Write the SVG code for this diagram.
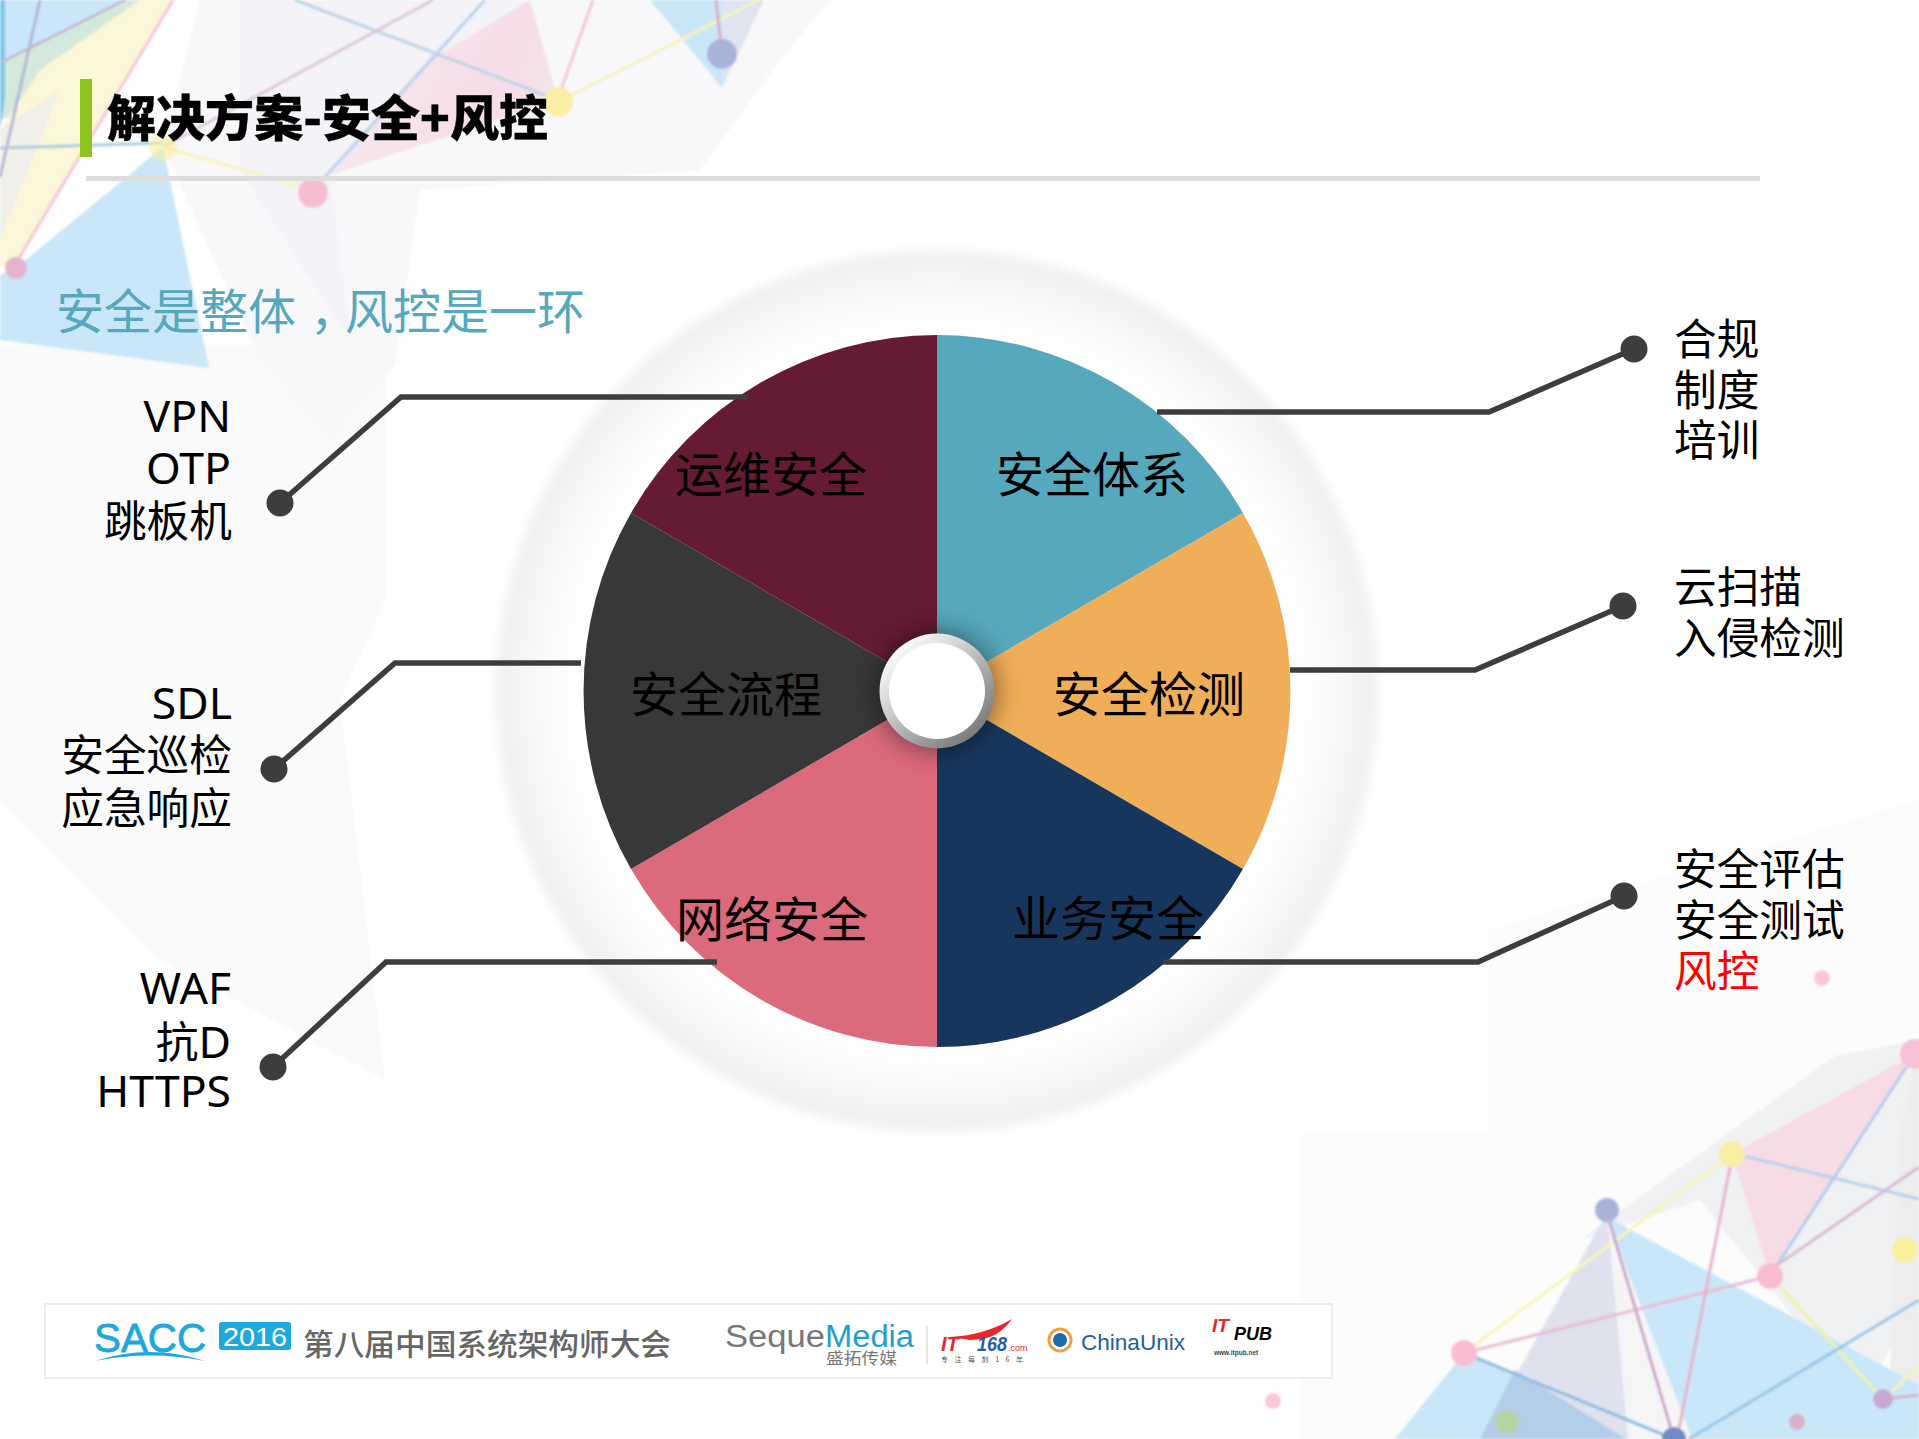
<svg xmlns="http://www.w3.org/2000/svg" width="1919" height="1439" viewBox="0 0 1919 1439">
<style>
text{font-family:"Noto Sans","Noto Sans CJK SC",sans-serif}
.p{font-size:48px;fill:#000;font-family:"Noto Sans CJK SC",sans-serif}
.l{font-size:42.7px;fill:#000}
.a{font-size:44.5px}
.e{text-anchor:end}
.c{fill:none;stroke:#3d3d3d;stroke-width:5.5}
.d{fill:#3d3d3d}
.bl{stroke-width:3;fill:none}
.f{fill:#f8f8fa}
.g{fill:#f3f3f8}
.lb{fill:#c9e7f8}
</style>
<defs>
<radialGradient id="ring" gradientUnits="userSpaceOnUse" cx="937" cy="691" r="448">
<stop offset="0.8" stop-color="#ffffff"/><stop offset="0.89" stop-color="#f9f9f9"/><stop offset="0.965" stop-color="#f1f1f1"/><stop offset="0.98" stop-color="#f5f5f5"/><stop offset="1" stop-color="#f8f8f8" stop-opacity="0"/>
</radialGradient>
<linearGradient id="hub" x1="0.15" y1="0.1" x2="0.85" y2="0.9">
<stop offset="0" stop-color="#ffffff"/><stop offset="0.35" stop-color="#d0d0d0"/><stop offset="1" stop-color="#777777"/>
</linearGradient>
<linearGradient id="pk" x1="0" y1="0" x2="1" y2="0.3">
<stop offset="0" stop-color="#f7dfe8" stop-opacity=".4"/><stop offset="0.8" stop-color="#f7dde7"/><stop offset="1" stop-color="#f3e3ea"/>
</linearGradient>
<filter id="sh" x="-50%" y="-50%" width="200%" height="200%"><feGaussianBlur stdDeviation="13"/></filter>
<filter id="soft" x="-10%" y="-10%" width="120%" height="120%"><feGaussianBlur stdDeviation="1"/></filter>
</defs>
<rect width="1919" height="1439" fill="#fff"/>
<g id="background">
<polygon fill="#fafafa" points="0,345 385,345 385,600 340,700 385,1080 160,960 0,800"/>
<polygon fill="#fcfcfc" points="1489,1132 1489,930 1919,800 1919,1439 1300,1439 1300,1132"/>
<g id="bg-topleft" filter="url(#soft)">
<polygon class="f" points="200,0 830,0 780,60 700,170 420,190 395,365 330,440 260,360 163,147"/>
<polygon class="g" points="240,0 530,0 558,100 330,175 350,340 240,170"/>
<polygon class="lb" points="0,0 125,0 0,63"/>
<polygon fill="#d5e8dc" points="125,0 173,0 70,95 0,120 0,63"/>
<polygon fill="#fbf7d8" points="173,0 140,0 40,70 0,130 0,268 16,263"/>
<polygon fill="#f1efe9" points="0,130 60,90 0,240"/>
<polygon class="lb" points="163,147 209,368 0,340 0,275 16,268"/>
<polygon fill="url(#pk)" points="530,0 558,100 330,175 430,60"/>
<polygon fill="#c9e7f8" points="650,0 722,0 722,88"/>
<polygon fill="#dfe4f0" points="722,0 764,0 722,88"/>
<polygon fill="#7fc6ee" points="0,0 5,0 5,100 0,130"/>
<g class="bl">
<line x1="295" y1="0" x2="558" y2="100" stroke="#bcd4e6"/>
<line x1="433" y1="0" x2="163" y2="147" stroke="#dcc6da"/>
<line x1="593" y1="0" x2="561" y2="90" stroke="#f5c6d6"/>
<line x1="558" y1="102" x2="759" y2="0" stroke="#f7f3b8"/>
<line x1="163" y1="147" x2="313" y2="190" stroke="#f7f3b8"/>
<line x1="485" y1="0" x2="325" y2="177" stroke="#bcd0e8"/>
<line x1="173" y1="0" x2="16" y2="263" stroke="#f5c6d6"/>
<line x1="40" y1="0" x2="0" y2="177" stroke="#b3b5d8"/>
<line x1="0" y1="148" x2="163" y2="143" stroke="#a9cfe0"/>
<line x1="125" y1="0" x2="0" y2="63" stroke="#c2b9d2"/>
<line x1="716" y1="0" x2="722" y2="54" stroke="#e0a9c6"/>
</g>
<circle cx="163" cy="147" r="14" fill="#f7ef9e" fill-opacity=".6"/>
<circle cx="313" cy="193" r="15" fill="#f6bdd2"/>
<circle cx="558" cy="102" r="15" fill="#f8efa4"/>
<circle cx="722" cy="54" r="15" fill="#a9b3da"/>
<circle cx="16" cy="268" r="11" fill="#e7b2cf"/>
</g>
<g id="bg-bottomright" filter="url(#soft)">
<polygon fill="#f0f1f3" points="1580,1240 1835,1056 1919,1040 1919,1300 1860,1400 1700,1200"/>
<polygon fill="#ededee" points="1887,1439 1900,1140 1919,1040 1919,1439"/>
<polygon class="lb" points="1464,1353 1395,1439 1690,1439"/>
<polygon class="lb" points="1607,1217 1919,1385 1919,1439 1690,1439 1628,1439"/>
<polygon fill="#f5f5f6" points="1607,1217 1628,1439 1692,1439"/>
<polygon fill="#dfe1ef" points="1607,1213 1480,1439 1628,1439"/>
<polygon fill="#a9c8e6" points="1515,1370 1480,1439 1628,1439 1626,1439" opacity=".8"/>
<polygon fill="#f7dbe5" points="1732,1154 1915,1054 1770,1276"/>
<g class="bl">
<line x1="1732" y1="1154" x2="1472" y2="1347" stroke="#f8f5b5"/>
<line x1="1770" y1="1276" x2="1464" y2="1353" stroke="#ecbcd4"/>
<line x1="1464" y1="1353" x2="1674" y2="1439" stroke="#90bde0"/>
<line x1="1607" y1="1213" x2="1674" y2="1439" stroke="#cda6cb"/>
<line x1="1732" y1="1157" x2="1677" y2="1439" stroke="#e6b3d0"/>
<line x1="1740" y1="1155" x2="1919" y2="1199" stroke="#b4d2ea"/>
<line x1="1915" y1="1054" x2="1770" y2="1276" stroke="#b0cdea"/>
<line x1="1919" y1="1167" x2="1770" y2="1270" stroke="#d9b8d4"/>
<line x1="1770" y1="1276" x2="1883" y2="1399" stroke="#eff2a6"/>
<line x1="1689" y1="1439" x2="1919" y2="1300" stroke="#98c6e6"/>
<line x1="1890" y1="1393" x2="1919" y2="1367" stroke="#f7f3b0"/>
<line x1="1883" y1="1399" x2="1919" y2="1395" stroke="#d9b0d4"/>
</g>
<circle cx="1915" cy="1054" r="15" fill="#f6c0d6"/>
<circle cx="1732" cy="1154" r="13" fill="#f8efa4"/>
<circle cx="1770" cy="1276" r="13" fill="#f9bdd2"/>
<circle cx="1607" cy="1210" r="12" fill="#a9b3da"/>
<circle cx="1464" cy="1353" r="13" fill="#fbbdd4"/>
<circle cx="1273" cy="1401" r="8" fill="#fbc8da"/>
<circle cx="1507" cy="1422" r="12" fill="#b5d4a6"/>
<circle cx="1797" cy="1422" r="8" fill="#d8b0cc"/>
<circle cx="1883" cy="1399" r="10" fill="#c9a8d4"/>
<circle cx="1905" cy="1250" r="13" fill="#f9f09e"/>
<circle cx="1674" cy="1439" r="12" fill="#6f8dc4"/>
<circle cx="1822" cy="978" r="8" fill="#fbc8da"/>
</g>
</g>
<rect id="title-bar" x="80" y="79" width="12" height="78" fill="#8fc31f"/>
<rect id="title-rule" x="86" y="176" width="1674" height="5" fill="#dcdcdc"/>
<text id="title" x="107" y="136" font-size="49" font-weight="900" fill="#000" stroke="#000" stroke-width=".4" textLength="441" style="font-family:'Noto Sans CJK SC',sans-serif">解决方案-安全+风控</text>
<text id="subtitle" x="56" y="329" font-size="48" fill="#56a8bd" style="font-family:'Noto Sans CJK SC',sans-serif">安全是整体<tspan dx="14">，</tspan><tspan dx="-13">风控是一环</tspan></text>
<g id="wheel">
<circle cx="937" cy="691" r="448" fill="url(#ring)"/>
<g id="seg-tixi"><path d="M937,691 L937,335 A354,356 0 0 1 1243,513 Z" fill="#56a8bd"/><text class="p" x="996" y="492">安全体系</text></g>
<g id="seg-jiance"><path d="M937,691 L1243,513 A354,356 0 0 1 1243,869 Z" fill="#f1ae59"/><text class="p" x="1053" y="712">安全检测</text></g>
<g id="seg-yewu"><path d="M937,691 L1243,869 A354,356 0 0 1 937,1047 Z" fill="#17365d"/><text class="p" x="1012" y="936">业务安全</text></g>
<g id="seg-wangluo"><path d="M937,691 L937,1047 A354,356 0 0 1 631,869 Z" fill="#db6a7c"/><text class="p" x="676" y="937">网络安全</text></g>
<g id="seg-liucheng"><path d="M937,691 L631,869 A354,356 0 0 1 631,513 Z" fill="#383838"/><text class="p" x="630" y="712">安全流程</text></g>
<g id="seg-yunwei"><path d="M937,691 L631,513 A354,356 0 0 1 937,335 Z" fill="#641b33"/><text class="p" x="675" y="492">运维安全</text></g>
<g id="hub">
<circle cx="937" cy="691" r="60" fill="#000" fill-opacity=".45" filter="url(#sh)"/>
<circle cx="937" cy="691" r="57.5" fill="url(#hub)"/>
<circle cx="937" cy="691" r="48" fill="#fff"/>
</g>
</g>
<g id="connectors">
<path class="c" d="M280,503 L401,397 H748"/>
<path class="c" d="M274,769 L395,663 H581"/>
<path class="c" d="M273,1067 L386,962 H717"/>
<path class="c" d="M1634,349 L1489,412 H1157"/>
<path class="c" d="M1623,606 L1475,670 H1290"/>
<path class="c" d="M1624,896 L1478,962 H1163"/>
<circle class="d" cx="280" cy="503" r="13.5"/>
<circle class="d" cx="274" cy="769" r="13.5"/>
<circle class="d" cx="273" cy="1067" r="13.5"/>
<circle class="d" cx="1634" cy="349" r="13.5"/>
<circle class="d" cx="1623" cy="606" r="13.5"/>
<circle class="d" cx="1624" cy="896" r="13.5"/>
</g>
<g id="label-l1"><text class="l a e" x="231" y="432">VPN</text><text class="l a e" x="231" y="484">OTP</text><text class="l e" x="232" y="537">跳板机</text></g>
<g id="label-l2"><text class="l a e" x="232" y="719">SDL</text><text class="l e" x="232" y="771">安全巡检</text><text class="l e" x="232" y="824">应急响应</text></g>
<g id="label-l3"><text class="l a e" x="231" y="1004">WAF</text><text class="l e" x="231" y="1058">抗<tspan class="a">D</tspan></text><text class="l a e" x="231" y="1107">HTTPS</text></g>
<g id="label-r1"><text class="l" x="1674" y="355">合规</text><text class="l" x="1674" y="406">制度</text><text class="l" x="1674" y="456">培训</text></g>
<g id="label-r2"><text class="l" x="1674" y="603">云扫描</text><text class="l" x="1674" y="654">入侵检测</text></g>
<g id="label-r3"><text class="l" x="1674" y="885">安全评估</text><text class="l" x="1674" y="936">安全测试</text><text class="l" x="1674" y="987" style="fill:#ff0000">风控</text></g>
<g id="footer">
<rect x="45" y="1304" width="1287" height="74" fill="#fff" stroke="#ececec" stroke-width="2"/>
<text x="94" y="1352" font-size="41" fill="#1fa8dc" stroke="#1fa8dc" stroke-width=".8" textLength="112" lengthAdjust="spacingAndGlyphs" style="font-family:'Liberation Sans',sans-serif">SACC</text>
<path d="M95,1361 Q150,1343 205,1361 Q150,1350 95,1361 Z" fill="#1fa8dc"/>
<rect x="219" y="1322" width="72" height="28" rx="3" fill="#1fa8dc"/>
<text x="255" y="1346" font-size="26" fill="#fff" text-anchor="middle" textLength="64" lengthAdjust="spacingAndGlyphs" style="font-family:'Liberation Sans',sans-serif">2016</text>
<text x="303" y="1355" font-size="30" font-weight="500" fill="#666" textLength="368" lengthAdjust="spacingAndGlyphs" style="font-family:'Noto Sans CJK SC',sans-serif">第八届中国系统架构师大会</text>
<text x="725" y="1347" font-size="31" fill="#777" textLength="100" lengthAdjust="spacingAndGlyphs" style="font-family:'Liberation Sans',sans-serif">Seque</text>
<text x="825" y="1347" font-size="31" fill="#1fa0c8" textLength="89" lengthAdjust="spacingAndGlyphs" style="font-family:'Liberation Sans',sans-serif">Media</text>
<text x="826" y="1364" font-size="16" fill="#777" textLength="71" lengthAdjust="spacingAndGlyphs" style="font-family:'Noto Sans CJK SC',sans-serif">盛拓传媒</text>
<line x1="927" y1="1326" x2="927" y2="1364" stroke="#ddd" stroke-width="1.5"/>
<path d="M950,1337 Q985,1335 1012,1319 Q1000,1336 982,1339 L970,1340 L964,1339 Z" fill="#e8262b"/>
<text x="941" y="1351" font-size="20" font-weight="700" font-style="italic" fill="#e8262b" style="font-family:'Liberation Sans',sans-serif">IT</text>
<text x="977" y="1351" font-size="20" font-weight="700" font-style="italic" fill="#1f5fa8" textLength="30" lengthAdjust="spacingAndGlyphs" style="font-family:'Liberation Sans',sans-serif">168</text>
<text x="1008" y="1351" font-size="9" fill="#e8262b" style="font-family:'Liberation Sans',sans-serif">.com</text>
<text x="941" y="1362" font-size="7" fill="#555" textLength="82" style="font-family:'Noto Sans CJK SC',sans-serif">专注每刻16年</text>
<circle cx="1060" cy="1340" r="11" fill="none" stroke="#f0a040" stroke-width="3"/>
<circle cx="1060" cy="1340" r="7" fill="#1e6ca8"/>
<text x="1081" y="1350" font-size="22" fill="#1e5f96" textLength="104" lengthAdjust="spacingAndGlyphs" style="font-family:'Liberation Sans',sans-serif">ChinaUnix</text>
<text x="1212" y="1332" font-size="19" font-weight="700" font-style="italic" fill="#e8262b" style="font-family:'Liberation Sans',sans-serif">IT</text>
<text x="1234" y="1340" font-size="18" font-weight="700" font-style="italic" fill="#000" style="font-family:'Liberation Sans',sans-serif">PUB</text>
<text x="1214" y="1355" font-size="6.5" font-weight="700" fill="#444" style="font-family:'Liberation Sans',sans-serif">www.itpub.net</text>
</g>
</svg>
